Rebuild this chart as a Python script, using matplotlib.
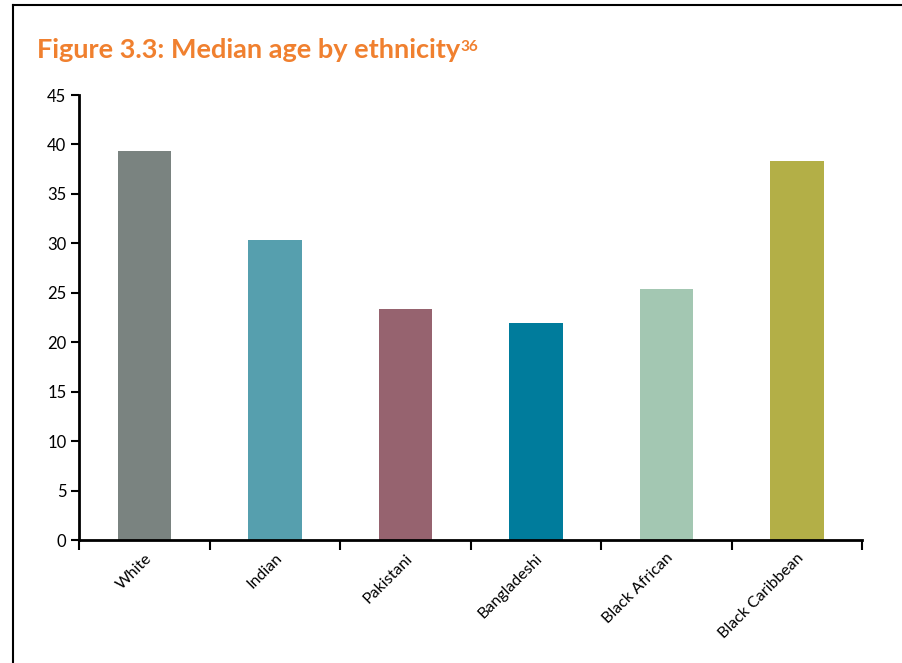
import matplotlib.pyplot as plt
from matplotlib.lines import Line2D
import numpy as np

# data
groups = ["White", "Indian", "Pakistani", "Bangladeshi", "Black African", "Black Caribbean"]
median_age = [39.3, 30.3, 23.4, 21.9, 25.4, 38.3]
bar_colors = ["#7a8380", "#569fae", "#96636f", "#007c9c", "#a3c7b2", "#b3af47"]
yticks = [0, 5, 10, 15, 20, 25, 30, 35, 40, 45]

plt.rcParams['font.family'] = ['Lato', 'DejaVu Sans']

fig = plt.figure(figsize=(9.03, 6.63), dpi=100)
ax = fig.add_axes([0.0875, 0.1855, 0.8671, 0.6712])

x = np.arange(len(groups))
ax.bar(x, median_age, width=0.41, color=bar_colors)

ax.set_ylim(0, 45)
ax.set_xlim(-0.5, len(groups) - 0.5)
ax.set_yticks(yticks)
ax.tick_params(axis='y', labelsize=12, width=1.5, length=6, pad=3)

# labels at the bar centres, ticks on the category boundaries
ax.set_xticks(x)
ax.set_xticklabels(groups, rotation=45, ha='right', va='top', rotation_mode='anchor', fontsize=11.5)
ax.tick_params(axis='x', which='major', length=0, pad=8)
ax.set_xticks(np.arange(len(groups) + 1) - 0.5, minor=True)
ax.tick_params(axis='x', which='minor', length=7, width=1.5)

for s in ['top', 'right']:
    ax.spines[s].set_visible(False)
for s in ['left', 'bottom']:
    ax.spines[s].set_linewidth(2)

# title with footnote number
t = fig.text(0.041, 0.912, "Figure 3.3: Median age by ethnicity", fontsize=19.5,
             fontweight='bold', color='#f0802f', ha='left', va='baseline')
ax.annotate("36", xy=(1, 1), xycoords=t, xytext=(0.5, -1), textcoords='offset points',
            fontsize=11, fontweight='bold', color='#f0802f', ha='left', va='top')

# page frame
fig.add_artist(Line2D([0.0144, 1.0], [0.9925, 0.9925], color='black', lw=1.5, transform=fig.transFigure))
fig.add_artist(Line2D([0.0144, 0.0144], [0.0, 0.9925], color='black', lw=1.5, transform=fig.transFigure))

fig.savefig("out.png", dpi=100)
